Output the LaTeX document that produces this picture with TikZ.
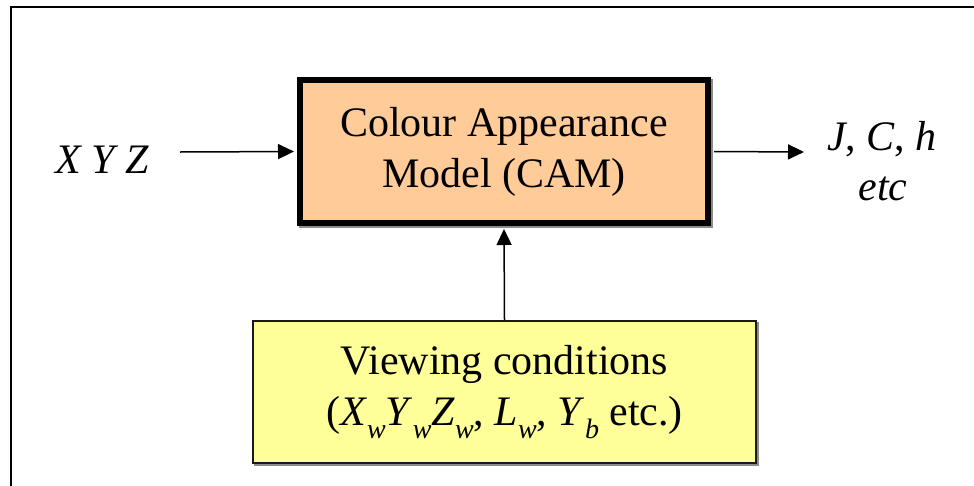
\documentclass[tikz,border=0pt]{standalone}
\usepackage{fontspec}
\setmainfont{Liberation Serif}
\usetikzlibrary{arrows.meta,shadows}
\definecolor{campeach}{HTML}{FFCC99}
\definecolor{vcyellow}{HTML}{FFFF99}
\newcommand\subw[1]{\raisebox{-0.3em}{\fontsize{28}{28}\selectfont\itshape #1}}
\tikzset{
  big/.style={font=\fontsize{42}{51}\selectfont},
  arr/.style={line width=1.5pt,-{Triangle[length=16pt,width=15pt]}},
  cambox/.style={draw=black,line width=6pt,fill=campeach,inner sep=0pt,
    minimum width=408pt,minimum height=143pt,align=center,big,
    drop shadow={shadow xshift=1.5pt,shadow yshift=-1.5pt,fill=black!45,draw=black!45,line width=6pt,opacity=1}},
  vcbox/.style={draw=black!90,line width=2pt,fill=vcyellow,inner sep=0pt,
    minimum width=503pt,minimum height=142pt,align=center,big,
    drop shadow={shadow xshift=2pt,shadow yshift=-2pt,fill=black!45,draw=black!45,line width=2pt,opacity=1}},
}
\begin{document}
\begin{tikzpicture}[x=1pt,y=-1pt]
\useasboundingbox (0,0) rectangle (974,485);
% outer frame (only top and left visible)
\coordinate (fbl) at (11,490);
\coordinate (ftl) at (11,7);
\coordinate (ftr) at (980,7);
\draw[line width=2.5pt] (fbl) -- (ftl) -- (ftr);

\node[cambox] (cam) at (504,151.5) {Colour Appearance\\Model (CAM)};
\node[vcbox] (vc) at (504.5,392) {Viewing conditions\\(\textit{X}\subw{w}\textit{Y}\subw{w}\textit{Z}\subw{w}, \textit{L}\subw{w}, \textit{Y}\subw{b} etc.)};

\node[big,anchor=base,inner sep=0pt] (xyz) at (102,173) {\textit{X Y Z}};
\node[big,anchor=base,inner sep=0pt] (jch) at (882,150) {\textit{J}, \textit{C}, \textit{h}};
\node[big,anchor=base,inner sep=0pt] (etc) at (883,200) {\textit{etc}};

\coordinate (inpt) at (180,152);
\coordinate (outpt) at (804,152);
\draw[arr,shorten >=3pt] (inpt) -- (cam.west);
\draw[arr] ([xshift=3pt]cam.east) -- (outpt);
\draw[arr,shorten >=3pt] (vc.north) -- (cam.south);
\end{tikzpicture}
\end{document}
